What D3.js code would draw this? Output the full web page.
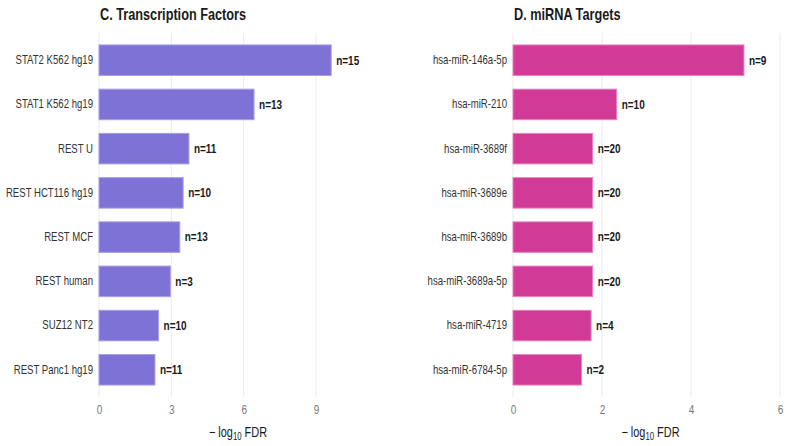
<!DOCTYPE html>
<html>
<head>
<meta charset="utf-8">
<script src="https://cdn.jsdelivr.net/npm/d3@7"></script>
<style>
  body { margin: 0; background: #fff; }
  text { font-family: "Liberation Sans", Arial, sans-serif; }
</style>
</head>
<body>
<svg class="chart"></svg>
<script>
// panel C data
var tfNames = ["STAT2 K562 hg19", "STAT1 K562 hg19", "REST U", "REST HCT116 hg19",
               "REST MCF", "REST human", "SUZ12 NT2", "REST Panc1 hg19"];
var tfValues = [9.63, 6.43, 3.73, 3.49, 3.35, 2.96, 2.47, 2.32];
var tfCounts = [15, 13, 11, 10, 13, 3, 10, 11];
var tfTicks = [0, 3, 6, 9];

// panel D data
var mirNames = ["hsa-miR-146a-5p", "hsa-miR-210", "hsa-miR-3689f", "hsa-miR-3689e",
                "hsa-miR-3689b", "hsa-miR-3689a-5p", "hsa-miR-4719", "hsa-miR-6784-5p"];
var mirValues = [5.19, 2.33, 1.79, 1.79, 1.79, 1.79, 1.755, 1.54];
var mirCounts = [9, 10, 20, 20, 20, 20, 4, 2];
var mirTicks = [0, 2, 4, 6];

var gwidth = 788, gheight = 446;
var svg = d3.select(".chart")
  .attr("width", gwidth)
  .attr("height", gheight);

var plotTop = 33, plotBottom = 397;

// the reference text is narrow: squeeze it horizontally
function squash(sel, s) {
  sel.each(function() {
    var t = d3.select(this);
    var x = +t.attr("x") || 0;
    t.attr("x", x / s).attr("transform", "scale(" + s + ",1)");
  });
}

// one horizontal bar panel
function panel(opts) {
  var g = svg.append("g");
  var x = d3.scaleLinear()
    .domain(opts.domain)
    .range([opts.left, opts.right]);
  var y = d3.scaleBand()
    .domain(opts.names)
    .range([plotTop, plotBottom])
    .paddingInner(0.31)
    .paddingOuter(0.27);

  // gridlines
  g.selectAll(".grid").data(opts.ticks).enter()
    .append("line")
    .attr("x1", function(d){ return x(d); })
    .attr("x2", function(d){ return x(d); })
    .attr("y1", plotTop).attr("y2", plotBottom)
    .attr("stroke", "#ebebeb").attr("stroke-width", 1);

  var data = opts.names.map(function(n, i){
    return {name: n, value: opts.values[i], count: opts.counts[i]};
  });

  g.selectAll(".bar").data(data).enter()
    .append("rect")
    .attr("x", x(0))
    .attr("y", function(d){ return y(d.name); })
    .attr("width", function(d){ return x(d.value) - x(0); })
    .attr("height", y.bandwidth())
    .attr("fill", opts.fill)
    .attr("stroke", opts.stroke)
    .attr("stroke-width", 1);

  var nl = g.selectAll(".nlab").data(data).enter()
    .append("text")
    .attr("x", function(d){ return x(d.value) + 5; })
    .attr("y", function(d){ return y(d.name) + y.bandwidth() / 2; })
    .attr("dy", "0.35em")
    .attr("font-size", 12.5)
    .attr("font-weight", "bold")
    .attr("fill", "#1a1a1a")
    .text(function(d){ return "n=" + d.count; });
  squash(nl, 0.8);

  // category axis (no line, no ticks)
  var yAxis = d3.axisLeft(y).tickSize(0).tickPadding(6);
  var ya = g.append("g")
    .attr("transform", "translate(" + opts.left + ",0)")
    .call(yAxis);
  ya.select(".domain").remove();
  ya.selectAll("text")
    .attr("font-size", 12)
    .attr("fill", "#333")
    .style("font-family", null);
  ya.attr("font-family", null);
  squash(ya.selectAll("text"), 0.8);

  // value axis
  var xAxis = d3.axisBottom(x).tickValues(opts.ticks).tickFormat(d3.format("d"))
    .tickSize(0).tickPadding(7);
  var xa = g.append("g")
    .attr("transform", "translate(0," + (plotBottom + 1) + ")")
    .call(xAxis);
  xa.select(".domain").remove();
  xa.attr("font-family", null);
  xa.selectAll("text")
    .attr("font-size", 12.5)
    .attr("fill", "#7a7a7a");
  squash(xa.selectAll("text"), 0.8);

  // titles
  var tt = g.append("text")
    .attr("x", opts.left + 1)
    .attr("y", 20)
    .attr("font-size", 16.5)
    .attr("font-weight", "bold")
    .attr("fill", "#1a1a1a")
    .text(opts.title);
  squash(tt, 0.77);

  var at = g.append("text")
    .attr("x", (opts.left + opts.panelRight) / 2)
    .attr("y", 437)
    .attr("text-anchor", "middle")
    .attr("font-size", 14)
    .attr("fill", "#1a1a1a");
  at.append("tspan").text("\u2212 log");
  at.append("tspan").attr("font-size", 10).attr("dy", 3).text("10");
  at.append("tspan").attr("dy", -3).text(" FDR");
  squash(at, 0.78);
}

panel({
  title: "C. Transcription Factors",
  names: tfNames, values: tfValues, counts: tfCounts, ticks: tfTicks,
  domain: [0, 9], left: 99, right: 316, panelRight: 377,
  fill: "#7f72d6", stroke: "#a79de6"
});

panel({
  title: "D. miRNA Targets",
  names: mirNames, values: mirValues, counts: mirCounts, ticks: mirTicks,
  domain: [0, 6], left: 513, right: 780, panelRight: 788,
  fill: "#d13a97", stroke: "#e784c0"
});
</script>
</body>
</html>
